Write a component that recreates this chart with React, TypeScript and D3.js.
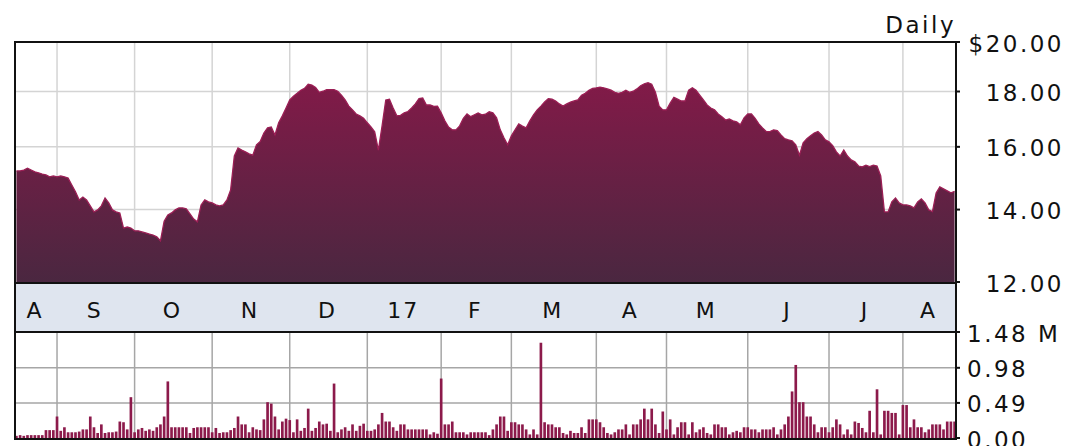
import * as d3 from "d3";

const WIDTH = 1068;
const HEIGHT = 446;
const FRAME = { left: 15, right: 956, top: 42, bottom: 439 };
const PRICE_BOTTOM = 283;
const VOLUME_TOP = 332;
const FONT = "'DejaVu Sans', Verdana, sans-serif";

// month labels and the trading-day index where each month starts
const monthLabels = ["A", "S", "O", "N", "D", "17", "F", "M", "A", "M", "J", "J", "A"];
const monthStarts = [0, 11, 32, 53, 74, 95, 115, 134, 157, 176, 198, 220, 240];

const priceTicks = [20, 18, 16, 14, 12];
const priceTickLabels = ["$20.00", "18.00", "16.00", "14.00", "12.00"];
const volumeTicks = [1.48, 0.98, 0.49, 0];
const volumeTickLabels = ["1.48 M", "0.98", "0.49", "0.00"];

// daily close, Aug 2016 - Aug 2017
const closes = [
  15.2, 15.2, 15.23, 15.29, 15.23, 15.17, 15.14, 15.1, 15.07, 15.01,
  15.04, 15.01, 15.04, 15.01, 14.97, 14.75, 14.54, 14.29, 14.38, 14.29,
  14.11, 13.93, 13.99, 14.11, 14.35, 14.2, 13.99, 13.93, 13.9, 13.46,
  13.49, 13.46, 13.38, 13.38, 13.35, 13.32, 13.29, 13.26, 13.21, 13.1,
  13.66, 13.84, 13.9, 13.99, 14.05, 14.05, 14.02, 13.87, 13.72, 13.64,
  14.14, 14.29, 14.23, 14.2, 14.14, 14.11, 14.14, 14.29, 14.6, 15.69,
  15.96, 15.89, 15.83, 15.76, 15.72, 16.07, 16.18, 16.48, 16.66, 16.69,
  16.41, 16.84, 17.09, 17.38, 17.68, 17.82, 17.93, 18.05, 18.12, 18.28,
  18.25, 18.15, 17.97, 18.01, 18.07, 18.07, 18.07, 18.01, 17.86, 17.68,
  17.45, 17.31, 17.16, 17.09, 17.0, 16.84, 16.69, 16.52, 15.89, 16.73,
  17.68, 17.71, 17.38, 17.09, 17.11, 17.2, 17.25, 17.38, 17.53, 17.73,
  17.75, 17.49, 17.49, 17.44, 17.45, 17.2, 16.91, 16.69, 16.59, 16.59,
  16.73, 17.0, 17.16, 17.06, 17.13, 17.2, 17.13, 17.15, 17.24, 17.2,
  17.02, 16.59, 16.31, 16.07, 16.38, 16.59, 16.8, 16.72, 16.66, 16.91,
  17.13, 17.31, 17.45, 17.6, 17.73, 17.71, 17.64, 17.53, 17.45, 17.53,
  17.6, 17.64, 17.68, 17.86, 17.93, 18.05, 18.12, 18.14, 18.17, 18.14,
  18.1, 18.05, 17.97, 17.93, 17.97, 18.05, 17.97, 18.01, 18.1, 18.22,
  18.3, 18.34, 18.28, 17.97, 17.45, 17.31, 17.31, 17.56, 17.78, 17.71,
  17.64, 17.64, 18.05, 18.14, 18.05, 17.86, 17.68, 17.49, 17.38, 17.31,
  17.16, 17.06, 16.94, 16.98, 16.91, 16.87, 16.77, 17.02, 17.16, 17.16,
  17.0, 16.8, 16.66, 16.53, 16.53, 16.59, 16.56, 16.41, 16.28, 16.24,
  16.21, 16.07, 15.72, 16.14, 16.28, 16.38, 16.48, 16.53, 16.41, 16.24,
  16.17, 16.04, 15.83, 15.69, 15.89, 15.69, 15.56, 15.5, 15.36, 15.33,
  15.39, 15.34, 15.39, 15.36, 15.04, 13.93, 13.93, 14.23, 14.35, 14.2,
  14.14, 14.14, 14.11, 14.05, 14.23, 14.32, 14.2, 13.99, 13.94, 14.5,
  14.69, 14.63, 14.57, 14.51, 14.55,
];

// daily volume, millions
const volumes = [
  0.03, 0.04, 0.03, 0.04, 0.04, 0.04, 0.04, 0.04, 0.11, 0.11,
  0.11, 0.3, 0.1, 0.15, 0.08, 0.08, 0.08, 0.09, 0.12, 0.12,
  0.3, 0.15, 0.07, 0.19, 0.07, 0.08, 0.08, 0.09, 0.23, 0.22,
  0.12, 0.57, 0.08, 0.12, 0.14, 0.1, 0.12, 0.1, 0.15, 0.19,
  0.3, 0.79, 0.15, 0.15, 0.15, 0.15, 0.15, 0.07, 0.14, 0.15,
  0.15, 0.15, 0.15, 0.08, 0.14, 0.07, 0.08, 0.08, 0.11, 0.14,
  0.3, 0.19, 0.19, 0.08, 0.15, 0.12, 0.11, 0.26, 0.5, 0.48,
  0.3, 0.12, 0.23, 0.27, 0.25, 0.08, 0.26, 0.1, 0.14, 0.41,
  0.1, 0.14, 0.23, 0.19, 0.2, 0.1, 0.76, 0.08, 0.12, 0.15,
  0.1, 0.19, 0.1, 0.17, 0.2, 0.1, 0.1, 0.12, 0.19, 0.35,
  0.23, 0.23, 0.15, 0.1, 0.19, 0.19, 0.12, 0.12, 0.12, 0.12,
  0.12, 0.12, 0.05, 0.08, 0.06, 0.83, 0.19, 0.19, 0.23, 0.08,
  0.08, 0.08, 0.05, 0.08, 0.08, 0.08, 0.08, 0.08, 0.04, 0.12,
  0.19, 0.3, 0.3, 0.1, 0.22, 0.22, 0.19, 0.19, 0.12, 0.05,
  0.12, 0.05, 1.33, 0.22, 0.19, 0.19, 0.15, 0.15, 0.07, 0.05,
  0.1, 0.07, 0.07, 0.15, 0.07, 0.26, 0.26, 0.26, 0.22, 0.15,
  0.07, 0.05, 0.08, 0.12, 0.12, 0.19, 0.05, 0.19, 0.19, 0.26,
  0.41, 0.26, 0.41, 0.19, 0.07, 0.37, 0.12, 0.26, 0.05, 0.15,
  0.22, 0.22, 0.05, 0.22, 0.08, 0.12, 0.15, 0.07, 0.05, 0.19,
  0.19, 0.15, 0.15, 0.05, 0.08, 0.1, 0.08, 0.15, 0.15, 0.12,
  0.12, 0.08, 0.12, 0.12, 0.12, 0.15, 0.05, 0.12, 0.19, 0.3,
  0.65, 1.02, 0.5, 0.5, 0.3, 0.3, 0.19, 0.08, 0.15, 0.15,
  0.08, 0.15, 0.26, 0.19, 0.05, 0.12, 0.05, 0.23, 0.21, 0.14,
  0.08, 0.38, 0.08, 0.68, 0.05, 0.38, 0.38, 0.35, 0.35, 0.05,
  0.46, 0.46, 0.15, 0.26, 0.15, 0.15, 0.08, 0.12, 0.19, 0.19,
  0.19, 0.12, 0.23, 0.23, 0.23,
];

const App = () => {
  const xScale = d3
    .scaleLinear()
    .domain([0, closes.length - 1])
    .range([16.4, 954.6]);

  const yScale = d3.scaleLog().domain([12, 20]).range([282, FRAME.top]);

  const volScale = d3
    .scaleLinear()
    .domain([0, 1.48])
    .range([FRAME.bottom - 1, VOLUME_TOP]);

  const area = d3
    .area<number>()
    .x((_, i) => xScale(i))
    .y0(PRICE_BOTTOM)
    .y1((d) => yScale(d));

  const line = d3
    .line<number>()
    .x((_, i) => xScale(i))
    .y((d) => yScale(d));

  const barWidth = (xScale(1) - xScale(0)) * 0.72;

  const gridX = monthStarts.slice(1).map((i) => xScale(i));

  const labelX = monthStarts.map((start, k) => {
    const a = k === 0 ? FRAME.left : xScale(start);
    const b = k === monthStarts.length - 1 ? FRAME.right : xScale(monthStarts[k + 1]);
    return (a + b) / 2 - 1;
  });

  return (
    <svg
      width={WIDTH}
      height={HEIGHT}
      style={{ position: "absolute", left: 0, top: 0, background: "#fff" }}
      fontFamily={FONT}
    >
      <defs>
        <linearGradient id="priceFill" gradientUnits="userSpaceOnUse" x1={0} y1={82} x2={0} y2={PRICE_BOTTOM}>
          <stop offset="0%" stopColor="#821a48" />
          <stop offset="100%" stopColor="#4a2740" />
        </linearGradient>
      </defs>

      {/* price grid */}
      {priceTicks.slice(1, -1).map((v, i) => (
        <line
          key={"pg" + i}
          x1={FRAME.left}
          x2={FRAME.right}
          y1={yScale(v)}
          y2={yScale(v)}
          stroke="#d4d4d4"
          strokeWidth={1.5}
        />
      ))}
      {gridX.map((x, i) => (
        <line
          key={"pv" + i}
          x1={x}
          x2={x}
          y1={FRAME.top}
          y2={PRICE_BOTTOM}
          stroke="#d4d4d4"
          strokeWidth={1.5}
        />
      ))}

      <path d={area(closes) || ""} fill="url(#priceFill)" />
      <path d={line(closes) || ""} fill="none" stroke="#9b1f55" strokeWidth={1.3} />

      {/* date band */}
      <rect
        x={FRAME.left}
        y={PRICE_BOTTOM}
        width={FRAME.right - FRAME.left}
        height={VOLUME_TOP - PRICE_BOTTOM}
        fill="#dfe5ef"
      />
      {monthLabels.map((m, i) => (
        <text
          key={"m" + i}
          x={labelX[i]}
          y={310}
          textAnchor="middle"
          dominantBaseline="central"
          fontSize={22}
          letterSpacing={2}
          fill="#111"
        >
          {m}
        </text>
      ))}

      {/* volume grid */}
      {volumeTicks.slice(1, -1).map((v, i) => (
        <line
          key={"vg" + i}
          x1={FRAME.left}
          x2={FRAME.right}
          y1={volScale(v)}
          y2={volScale(v)}
          stroke="#a6a6a6"
          strokeWidth={1.5}
        />
      ))}
      {gridX.map((x, i) => (
        <line
          key={"vv" + i}
          x1={x}
          x2={x}
          y1={VOLUME_TOP}
          y2={FRAME.bottom}
          stroke="#a6a6a6"
          strokeWidth={1.5}
        />
      ))}

      {volumes.map((v, i) => (
        <rect
          key={"b" + i}
          x={xScale(i) - barWidth / 2}
          y={volScale(v)}
          width={barWidth}
          height={volScale(0) - volScale(v)}
          fill="#8c1a4b"
        />
      ))}

      {/* frame */}
      <rect
        x={FRAME.left}
        y={FRAME.top}
        width={FRAME.right - FRAME.left}
        height={FRAME.bottom - FRAME.top}
        fill="none"
        stroke="#111"
        strokeWidth={2}
      />
      <line x1={FRAME.left} x2={FRAME.right} y1={PRICE_BOTTOM} y2={PRICE_BOTTOM} stroke="#111" strokeWidth={2} />
      <line x1={FRAME.left} x2={FRAME.right} y1={VOLUME_TOP} y2={VOLUME_TOP} stroke="#111" strokeWidth={2} />

      {/* right axis */}
      {priceTicks.map((v, i) => (
        <g key={"pt" + i}>
          <line x1={FRAME.right} x2={FRAME.right + 4} y1={yScale(v)} y2={yScale(v)} stroke="#111" strokeWidth={2} />
          <text
            x={1064}
            y={yScale(v) + 1.5}
            textAnchor="end"
            dominantBaseline="central"
            fontSize={23}
            letterSpacing={2.5}
            fill="#111"
          >
            {priceTickLabels[i]}
          </text>
        </g>
      ))}
      {volumeTicks.map((v, i) => (
        <g key={"vt" + i}>
          <line x1={FRAME.right} x2={FRAME.right + 4} y1={volScale(v)} y2={volScale(v)} stroke="#111" strokeWidth={2} />
          <text
            x={967}
            y={volScale(v) + 1.5}
            textAnchor="start"
            dominantBaseline="central"
            fontSize={23}
            letterSpacing={2.5}
            fill="#111"
          >
            {volumeTickLabels[i]}
          </text>
        </g>
      ))}

      <text x={956} y={33} textAnchor="end" fontSize={23} letterSpacing={2.5} fill="#111">
        Daily
      </text>
    </svg>
  );
};

export default App;
